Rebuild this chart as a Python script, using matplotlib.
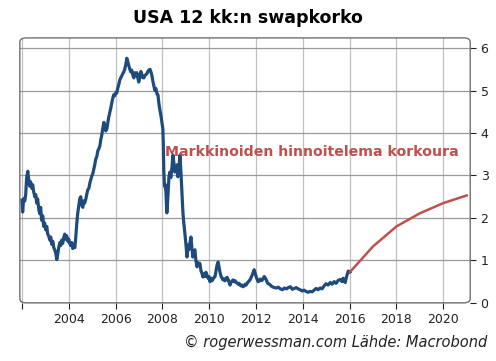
import matplotlib
matplotlib.use("Agg")
import matplotlib.pyplot as plt
from matplotlib.patches import FancyBboxPatch

# historical 12m swap rate
hist_years = [
    2002.00, 2002.03, 2002.07, 2002.12, 2002.16, 2002.20, 2002.25, 2002.29, 2002.33, 2002.37,
    2002.42, 2002.46, 2002.50, 2002.55, 2002.59, 2002.63, 2002.67, 2002.72, 2002.76, 2002.80,
    2002.84, 2002.89, 2002.93, 2002.97, 2003.02, 2003.06, 2003.10, 2003.14, 2003.19, 2003.23,
    2003.27, 2003.32, 2003.36, 2003.40, 2003.44, 2003.49, 2003.53, 2003.57, 2003.62, 2003.66,
    2003.70, 2003.74, 2003.79, 2003.83, 2003.87, 2003.91, 2003.96, 2004.00, 2004.04, 2004.09,
    2004.13, 2004.17, 2004.21, 2004.26, 2004.30, 2004.34, 2004.38, 2004.43, 2004.47, 2004.51,
    2004.56, 2004.60, 2004.64, 2004.68, 2004.73, 2004.77, 2004.81, 2004.86, 2004.90, 2004.94,
    2004.98, 2005.03, 2005.07, 2005.11, 2005.15, 2005.20, 2005.24, 2005.28, 2005.33, 2005.37,
    2005.41, 2005.45, 2005.50, 2005.54, 2005.58, 2005.63, 2005.67, 2005.71, 2005.75, 2005.80,
    2005.84, 2005.88, 2005.92, 2005.97, 2006.01, 2006.05, 2006.09, 2006.14, 2006.18, 2006.22,
    2006.27, 2006.31, 2006.35, 2006.39, 2006.44, 2006.48, 2006.52, 2006.57, 2006.61, 2006.65,
    2006.69, 2006.74, 2006.78, 2006.82, 2006.87, 2006.91, 2006.95, 2006.99, 2007.04, 2007.08,
    2007.12, 2007.17, 2007.21, 2007.25, 2007.30, 2007.34, 2007.38, 2007.42, 2007.47, 2007.51,
    2007.55, 2007.60, 2007.64, 2007.68, 2007.72, 2007.77, 2007.81, 2007.85, 2007.89, 2007.94,
    2007.98, 2008.02, 2008.04, 2008.06, 2008.09, 2008.11, 2008.15, 2008.19, 2008.24, 2008.28,
    2008.32, 2008.36, 2008.41, 2008.45, 2008.49, 2008.53, 2008.58, 2008.62, 2008.66, 2008.71,
    2008.75, 2008.79, 2008.83, 2008.88, 2008.92, 2008.96, 2009.01, 2009.05, 2009.09, 2009.13,
    2009.18, 2009.22, 2009.26, 2009.30, 2009.35, 2009.39, 2009.43, 2009.48, 2009.52, 2009.56,
    2009.60, 2009.65, 2009.69, 2009.73, 2009.78, 2009.82, 2009.86, 2009.90, 2009.95, 2009.99,
    2010.03, 2010.08, 2010.12, 2010.16, 2010.21, 2010.25, 2010.29, 2010.33, 2010.38, 2010.42,
    2010.46, 2010.51, 2010.55, 2010.59, 2010.63, 2010.68, 2010.72, 2010.76, 2010.81, 2010.85,
    2010.89, 2010.93, 2010.98, 2011.02, 2011.06, 2011.11, 2011.15, 2011.19, 2011.24, 2011.28,
    2011.32, 2011.36, 2011.41, 2011.45, 2011.49, 2011.54, 2011.58, 2011.62, 2011.66, 2011.71,
    2011.75, 2011.79, 2011.84, 2011.88, 2011.92, 2011.96, 2012.01, 2012.05, 2012.09, 2012.14,
    2012.18, 2012.22, 2012.27, 2012.31, 2012.35, 2012.39, 2012.44, 2012.48, 2012.52, 2012.57,
    2012.61, 2012.69, 2012.78, 2012.87, 2012.95, 2013.04, 2013.13, 2013.21, 2013.30, 2013.38,
    2013.47, 2013.55, 2013.63, 2013.72, 2013.80, 2013.88, 2013.97, 2014.05, 2014.14, 2014.22,
    2014.31, 2014.40, 2014.48, 2014.57, 2014.65, 2014.74, 2014.82, 2014.91, 2014.99, 2015.08,
    2015.17, 2015.25, 2015.34, 2015.42, 2015.51, 2015.59, 2015.68, 2015.72, 2015.76, 2015.81,
    2015.85, 2015.89, 2015.94, 2015.98, 2016.02,
]
hist_rate = [
    2.42, 2.14, 2.45, 2.40, 2.55, 2.95, 3.10, 2.90, 2.75, 2.85,
    2.70, 2.78, 2.62, 2.50, 2.55, 2.35, 2.45, 2.20, 2.10, 2.25,
    1.95, 2.05, 1.80, 1.88, 1.72, 1.80, 1.62, 1.58, 1.48, 1.55,
    1.38, 1.45, 1.30, 1.25, 1.18, 1.02, 1.15, 1.30, 1.42, 1.35,
    1.48, 1.40, 1.55, 1.62, 1.50, 1.58, 1.45, 1.50, 1.40, 1.35,
    1.42, 1.28, 1.35, 1.30, 1.55, 1.85, 2.10, 2.30, 2.45, 2.50,
    2.30, 2.25, 2.40, 2.35, 2.45, 2.55, 2.66, 2.70, 2.82, 2.90,
    2.98, 3.05, 3.15, 3.25, 3.38, 3.45, 3.58, 3.62, 3.70, 3.85,
    3.95, 4.10, 4.25, 4.15, 4.05, 4.10, 4.25, 4.38, 4.48, 4.60,
    4.72, 4.82, 4.90, 4.88, 4.95, 4.94, 5.05, 5.15, 5.25, 5.30,
    5.35, 5.40, 5.44, 5.50, 5.62, 5.76, 5.68, 5.58, 5.50, 5.44,
    5.48, 5.36, 5.30, 5.42, 5.35, 5.42, 5.30, 5.20, 5.32, 5.45,
    5.38, 5.30, 5.30, 5.35, 5.38, 5.40, 5.45, 5.48, 5.50, 5.44,
    5.36, 5.20, 5.10, 5.00, 5.05, 4.92, 4.90, 4.70, 4.55, 4.40,
    4.25, 4.10, 3.70, 3.10, 2.75, 2.80, 2.62, 2.12, 2.55, 2.97,
    3.08, 2.95, 3.20, 3.48, 3.30, 3.08, 3.20, 3.25, 2.97, 3.20,
    3.48, 3.10, 2.66, 2.10, 1.85, 1.64, 1.35, 1.08, 1.36, 1.25,
    1.42, 1.55, 1.30, 1.08, 1.20, 1.25, 1.00, 0.85, 0.95, 0.88,
    0.93, 0.75, 0.70, 0.61, 0.68, 0.62, 0.72, 0.66, 0.58, 0.62,
    0.50, 0.58, 0.52, 0.56, 0.60, 0.62, 0.75, 0.88, 0.96, 0.85,
    0.72, 0.62, 0.58, 0.54, 0.56, 0.52, 0.58, 0.60, 0.55, 0.48,
    0.42, 0.48, 0.52, 0.54, 0.50, 0.52, 0.48, 0.47, 0.44, 0.46,
    0.42, 0.40, 0.42, 0.38, 0.40, 0.44, 0.42, 0.46, 0.49, 0.52,
    0.55, 0.60, 0.66, 0.72, 0.78, 0.70, 0.61, 0.55, 0.50, 0.52,
    0.56, 0.52, 0.54, 0.58, 0.62, 0.59, 0.54, 0.48, 0.45, 0.44,
    0.42, 0.38, 0.36, 0.35, 0.37, 0.33, 0.31, 0.35, 0.33, 0.36,
    0.38, 0.32, 0.34, 0.36, 0.33, 0.31, 0.28, 0.30, 0.27, 0.25,
    0.27, 0.26, 0.30, 0.34, 0.31, 0.35, 0.33, 0.40, 0.45, 0.42,
    0.48, 0.44, 0.50, 0.46, 0.53, 0.55, 0.50, 0.58, 0.52, 0.48,
    0.58, 0.66, 0.75, 0.72, 0.73,
]

# market-implied path
fwd_years = [2016.02, 2017, 2018, 2019, 2020, 2021]
fwd_rate = [0.73, 1.33, 1.80, 2.11, 2.35, 2.53]

x_ticks = [2002, 2004, 2006, 2008, 2010, 2012, 2014, 2016, 2018, 2020]
x_labels = ["", "2004", "2006", "2008", "2010", "2012", "2014", "2016", "2018", "2020"]
y_ticks = [0, 1, 2, 3, 4, 5, 6]

BLUE = "#1f4b7c"
RED = "#c0504d"

fig = plt.figure(figsize=(4.96, 3.61), dpi=100)
ax = fig.add_axes([0.040, 0.161, 0.908, 0.734])

ax.plot(hist_years, hist_rate, color=BLUE, lw=2.3, solid_joinstyle="round", zorder=3)
ax.plot(fwd_years, fwd_rate, color=RED, lw=1.8, zorder=3)

ax.set_xlim(2001.91, 2021.15)
ax.set_ylim(0, 6.24)

for yr in x_ticks:
    ax.axvline(yr, color="#c0c0c0", lw=0.9, zorder=1)
for v in y_ticks:
    ax.axhline(v, color="#9a9a9a", lw=0.9, zorder=1)

for sp in ax.spines.values():
    sp.set_visible(False)
frame = FancyBboxPatch((0, 0), 1, 1, boxstyle="round,pad=0,rounding_size=0.015",
                       transform=ax.transAxes, fill=False, edgecolor="#707070",
                       lw=1.0, clip_on=False, zorder=4)
ax.add_patch(frame)

ax.set_xticks(x_ticks)
ax.set_xticklabels(x_labels)
ax.yaxis.tick_right()
ax.set_yticks(y_ticks)
ax.tick_params(axis="both", labelsize=9, colors="#222222", length=4, width=0.8, direction="out")

ax.text(2008.1, 3.55, "Markkinoiden hinnoitelema korkoura", color=RED,
        fontsize=10.2, fontweight="bold", va="center", ha="left", zorder=5)

fig.text(0.5, 0.95, "USA 12 kk:n swapkorko", ha="center", va="center",
         fontsize=12.5, fontweight="bold")
fig.text(0.982, 0.052, "\u00a9 rogerwessman.com L\u00e4hde: Macrobond", ha="right",
         va="center", fontsize=10.5, style="italic", color="#222222")

fig.savefig("out.png", dpi=100)
